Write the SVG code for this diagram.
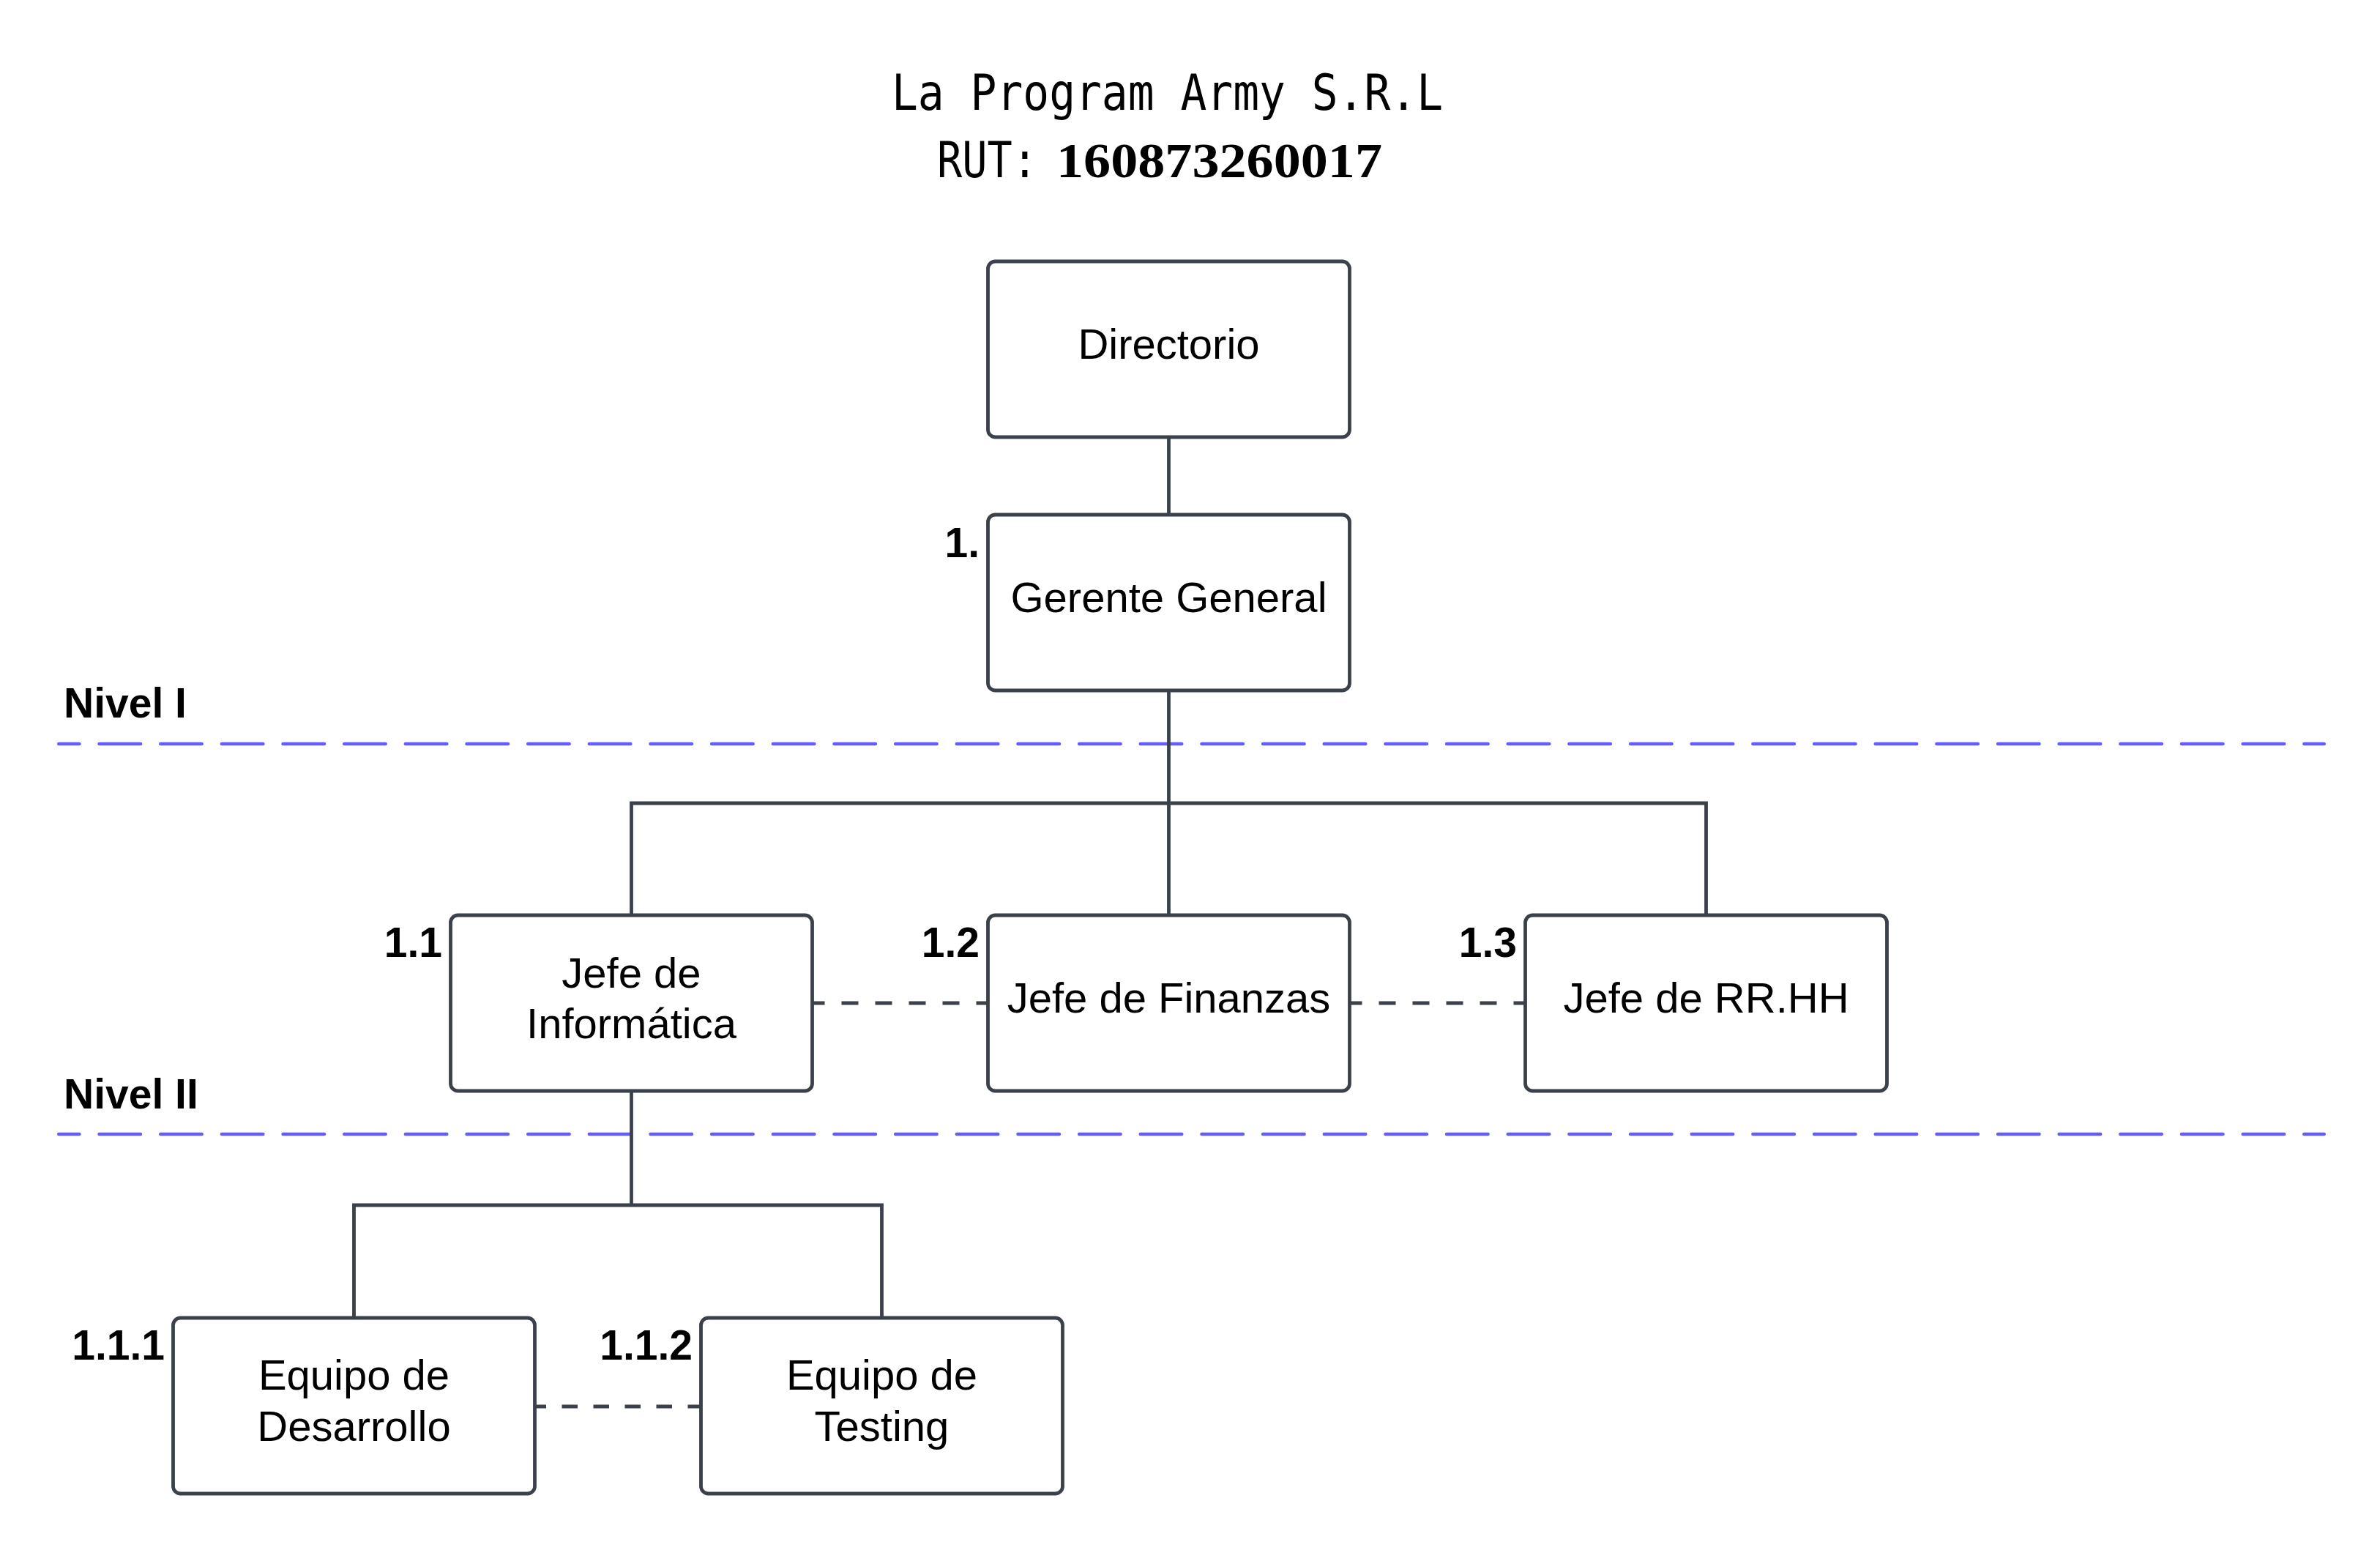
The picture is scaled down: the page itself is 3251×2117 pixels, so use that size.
<svg xmlns="http://www.w3.org/2000/svg" width="3251" height="2117" viewBox="0 0 3251 2117">
<style>
.box{fill:#ffffff;stroke:#3a414a;stroke-width:4.8}
.conn{fill:none;stroke:#3a414a;stroke-width:4.8;stroke-linejoin:miter;stroke-linecap:butt}
.dash{fill:none;stroke:#3a414a;stroke-width:5;stroke-dasharray:23 23}
.level{fill:none;stroke:#635dff;stroke-width:4.7;stroke-linecap:round;stroke-dasharray:56.3 27.36;stroke-dashoffset:28.35}
.lbl{font-family:"Liberation Sans",Arial,sans-serif;font-size:58px;fill:#000000;text-anchor:middle}
.num{font-family:"Liberation Sans",Arial,sans-serif;font-size:57px;font-weight:bold;fill:#000000;text-anchor:end}
.lvl{font-family:"Liberation Sans",Arial,sans-serif;font-size:57px;font-weight:bold;fill:#000000}
.title{font-family:"DejaVu Sans Mono",monospace;font-size:68px;fill:#000000}
.rut{font-family:"Liberation Serif",serif;font-size:68px;font-weight:bold;fill:#000000}
</style>
<rect width="3251" height="2117" fill="#ffffff"/>

<g id="title">
<text class="title" x="1218" y="150" textLength="753" lengthAdjust="spacingAndGlyphs">La Program Army S.R.L</text>
<text class="title" x="1280" y="242" textLength="137" lengthAdjust="spacingAndGlyphs">RUT:</text>
<text class="rut" x="1443" y="242" textLength="445" lengthAdjust="spacingAndGlyphs">160873260017</text>
</g>

<g id="levels">
<path class="level" d="M80.35 1016 H3174.65"/>
<path class="level" d="M80.35 1549 H3174.65"/>
<text class="lvl" x="87" y="980">Nivel I</text>
<text class="lvl" x="87" y="1514">Nivel II</text>
</g>

<g id="connectors">
<path class="conn" d="M1596.5 597 V703"/>
<path class="conn" d="M1596.5 943 V1250"/>
<path class="conn" d="M862.5 1250 V1097 H2330.5 V1250"/>
<path class="conn" d="M862.5 1490 V1646"/>
<path class="conn" d="M483.5 1800 V1646 H1204.5 V1800"/>
<path class="dash" d="M1109.5 1370 H1349.5" style="stroke-dashoffset:6"/>
<path class="dash" d="M1843.5 1370 H2083.5" style="stroke-dashoffset:6"/>
<path class="dash" d="M730.5 1921 H957.5" style="stroke-dasharray:21.5 21.5;stroke-dashoffset:6"/>
</g>

<g id="node-directorio">
<rect class="box" x="1349.5" y="357" width="494" height="240" rx="10"/>
<text class="lbl" x="1596.5" y="490">Directorio</text>
</g>

<g id="node-gerente">
<rect class="box" x="1349.5" y="703" width="494" height="240" rx="10"/>
<text class="lbl" x="1596.5" y="836">Gerente General</text>
<text class="num" x="1338" y="761">1.</text>
</g>

<g id="node-informatica">
<rect class="box" x="615.5" y="1250" width="494" height="240" rx="10"/>
<text class="lbl" x="862.5" y="1349">Jefe de</text>
<text class="lbl" x="862.5" y="1418">Informática</text>
<text class="num" x="604" y="1307">1.1</text>
</g>

<g id="node-finanzas">
<rect class="box" x="1349.5" y="1250" width="494" height="240" rx="10"/>
<text class="lbl" x="1596.5" y="1383">Jefe de Finanzas</text>
<text class="num" x="1338" y="1307">1.2</text>
</g>

<g id="node-rrhh">
<rect class="box" x="2083.5" y="1250" width="494" height="240" rx="10"/>
<text class="lbl" x="2330.5" y="1383">Jefe de RR.HH</text>
<text class="num" x="2072" y="1307">1.3</text>
</g>

<g id="node-desarrollo">
<rect class="box" x="236.5" y="1800" width="494" height="240" rx="10"/>
<text class="lbl" x="483.5" y="1898">Equipo de</text>
<text class="lbl" x="483.5" y="1968">Desarrollo</text>
<text class="num" x="225" y="1857">1.1.1</text>
</g>

<g id="node-testing">
<rect class="box" x="957.5" y="1800" width="494" height="240" rx="10"/>
<text class="lbl" x="1204.5" y="1898">Equipo de</text>
<text class="lbl" x="1204.5" y="1968">Testing</text>
<text class="num" x="946" y="1857">1.1.2</text>
</g>
</svg>
